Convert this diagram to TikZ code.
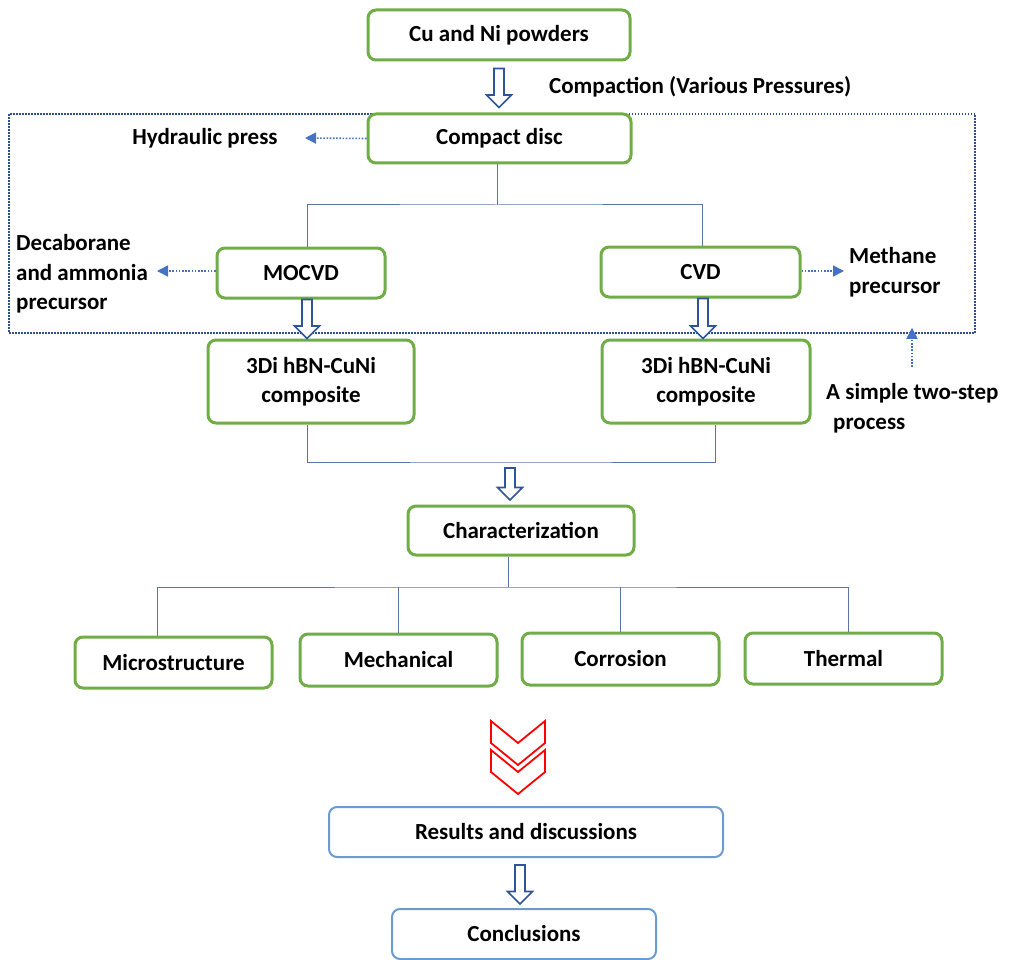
\documentclass[tikz,border=0pt]{standalone}
\usepackage{fontspec}
\setmainfont{Carlito}
\usetikzlibrary{arrows.meta,calc}
\definecolor{boxgreen}{HTML}{70AD47}
\definecolor{boxblue}{HTML}{6A9BD1}
\definecolor{arrblue}{HTML}{2F5597}
\definecolor{dotblue}{HTML}{4472C4}
\definecolor{connc}{HTML}{5A74A8}
\definecolor{framec}{HTML}{2F4F8F}
\begin{document}
\begin{tikzpicture}[x=1pt,y=-1pt,
  every node/.style={font=\bfseries\fontsize{23}{29.5}\selectfont, text=black, inner sep=2pt},
  gbox/.style={draw=boxgreen, line width=3pt, rounded corners=8pt, fill=white, inner sep=0pt, align=center},
  bbox/.style={draw=boxblue, line width=2pt, rounded corners=8pt, fill=white, inner sep=0pt, align=center},
  conn/.style={draw=connc, line width=1pt},
  dotarr/.style={draw=dotblue, line width=1.6pt, dash pattern=on 1.6pt off 1.6pt, -{Triangle[length=11pt,width=11pt]}},
  blkline/.style={draw=arrblue, fill=white, line width=1.6pt, line join=miter},
  pics/barrow/.style={code={
    \draw[blkline] (-5,0) -- (5,0) -- (5,#1-12.5) -- (12.5,#1-12.5) -- (0,#1)
      -- (-12.5,#1-12.5) -- (-5,#1-12.5) -- cycle;}},
  chev/.style={draw=red, line width=1.8pt, line join=miter},
  lbl/.style={anchor=west, align=left}]
\useasboundingbox (0,0) rectangle (1017,960);

% dotted frame
\node[draw=framec, line width=1.5pt, dash pattern=on 1.5pt off 1.5pt, minimum width=966pt, minimum height=219pt, inner sep=0pt] (frame) at (492,223.5) {};

% boxes
\node[gbox, minimum width=262pt, minimum height=50pt] (cu) at (499,35) {Cu and Ni powders};
\node[gbox, minimum width=263pt, minimum height=49pt] (cd) at (499.5,138.5) {Compact disc};
\node[gbox, minimum width=168pt, minimum height=50pt] (mocvd) at (301,273) {MOCVD};
\node[gbox, minimum width=199pt, minimum height=50pt] (cvd) at (700.5,272) {CVD};
\node[gbox, minimum width=206pt, minimum height=83pt] (comp1) at (311,381.5) {3Di hBN-CuNi\\composite};
\node[gbox, minimum width=208pt, minimum height=83pt] (comp2) at (706,381.5) {3Di hBN-CuNi\\composite};
\node[gbox, minimum width=226pt, minimum height=49pt] (char) at (521,530.5) {Characterization};
\node[gbox, minimum width=197pt, minimum height=51pt] (micro) at (173.5,662.5) {Microstructure};
\node[gbox, minimum width=197pt, minimum height=52pt] (mech) at (398.5,660) {Mechanical};
\node[gbox, minimum width=197pt, minimum height=52pt] (corr) at (620.5,659) {Corrosion};
\node[gbox, minimum width=197pt, minimum height=51pt] (therm) at (843.5,658.5) {Thermal};
\node[bbox, minimum width=394pt, minimum height=50pt] (res) at (526,832) {Results and discussions};
\node[bbox, minimum width=264pt, minimum height=50pt] (concl) at (524,934) {Conclusions};

% side labels
\node[lbl] (compt) at (547,87) {Compaction (Various Pressures)};
\node (hp) at (205,138) {Hydraulic press};
\node[lbl] (dec) at (14,274) {Decaborane\\and ammonia\\precursor};
\node[lbl] (meth) at (847,272) {Methane\\precursor};
\node[lbl] (ts) at (824,408) {A simple two-step\\\hspace*{7pt}process};

% connectors
\coordinate (j1) at (497,205);
\draw[conn] (cd.south -| j1) -- (j1);
\draw[conn] ([xshift=6pt]mocvd.north) |- (j1) -| ([xshift=1.5pt]cvd.north);
\coordinate (j2) at (510,462);
\draw[conn] ([xshift=-4pt]comp1.south) |- (j2) -| ([xshift=9pt]comp2.south);
\coordinate (j3) at (508,587);
\draw[conn] (char.south -| j3) -- (j3);
\draw[conn] ([xshift=-16.5pt]micro.north) |- (j3) -| ([xshift=4.5pt]therm.north);
\draw[conn] (mech.north) -- (mech.north |- j3);
\draw[conn] (corr.north) -- (corr.north |- j3);

% dotted arrows
\coordinate (hpt) at (305,138);
\draw[dotarr] (cd.west) -- (hpt);
\coordinate (dect) at (157,271);
\draw[dotarr] (mocvd.west |- dect) -- (dect);
\coordinate (metht) at (844,271);
\draw[dotarr] (cvd.east |- metht) -- (metht);
\coordinate (tsa) at (912,367);
\draw[dotarr, shorten >=-6pt] (tsa) -- (tsa |- frame.south);

% block arrows
\pic at ([yshift=-7pt]cu.south) {barrow=39};
\pic at ([xshift=6pt]mocvd.south) {barrow=39};
\pic at ([xshift=2.5pt]cvd.south) {barrow=40};
\pic at ([yshift=-6pt]j2) {barrow=32};
\pic at ([xshift=-6pt,yshift=-7pt]res.south) {barrow=39};

% red chevrons
\draw[chev] (491,721) -- (518,743) -- (545,721) -- (545,743) -- (518,765) -- (491,743) -- cycle;
\draw[chev] (491,750) -- (518,772) -- (545,750) -- (545,772) -- (518,794) -- (491,772) -- cycle;
\end{tikzpicture}
\end{document}
